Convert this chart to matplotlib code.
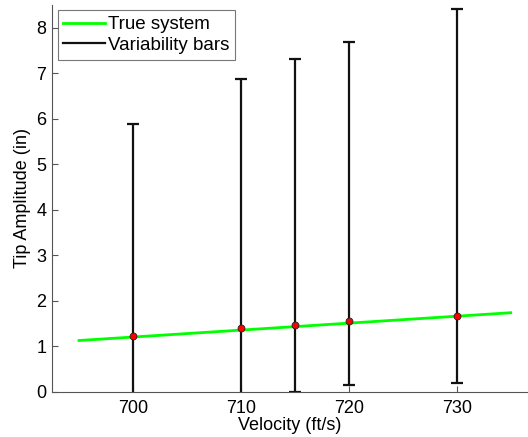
import matplotlib
matplotlib.use("Agg")
import matplotlib.pyplot as plt
from matplotlib.lines import Line2D
import numpy as np

plt.rcParams['font.family'] = ['Liberation Sans', 'DejaVu Sans']

# true system line
line_v = [695, 735]
line_amp = [1.13, 1.74]

# variability bars
vel = [700, 710, 715, 720, 730]
amp = [1.23, 1.40, 1.47, 1.55, 1.67]
upper = [5.89, 6.87, 7.30, 7.68, 8.40]
lower = [-0.3, -0.3, 0.0, 0.16, 0.20]

fig = plt.figure(figsize=(5.28, 4.37), dpi=100)
ax = fig.add_axes([0.0985, 0.103, 0.9015, 0.886])

amp_a = np.array(amp)
yerr = [amp_a - np.array(lower), np.array(upper) - amp_a]
ax.errorbar(vel, amp, yerr=yerr, fmt='none', ecolor='#111111', elinewidth=1.6,
            capsize=4.5, capthick=1.6, zorder=2)
ax.plot(line_v, line_amp, color=(0, 1, 0), lw=2, zorder=3)
ax.plot(vel, amp, 'o', color='red', mec='#222222', mew=0.6, ms=5, zorder=4)

ax.set_xlim(692.5, 736.6)
ax.set_ylim(0, 8.5)
ax.set_xticks([700, 710, 720, 730])
ax.set_yticks(range(0, 9))
ax.spines['top'].set_visible(False)
ax.spines['right'].set_visible(False)
for s in ['left', 'bottom']:
    ax.spines[s].set_color('#555555')
ax.tick_params(direction='in', labelsize=13, length=4, color='#555555', pad=4)
ax.tick_params(axis='x', pad=5.5)
ax.set_xlabel('Velocity (ft/s)', fontsize=13, labelpad=0.5)
ax.set_ylabel('Tip Amplitude (in)', fontsize=13, labelpad=4)

handles = [Line2D([], [], color=(0, 1, 0), lw=2),
           Line2D([], [], color='#111111', lw=1.6)]
leg = ax.legend(handles, ['True system', 'Variability bars'], loc='upper left',
                fontsize=13.5, frameon=True, fancybox=False, handlelength=2.2,
                borderpad=0.3, labelspacing=0.2, handletextpad=0.2,
                borderaxespad=0.3)
leg.get_frame().set_edgecolor('#555555')
leg.get_frame().set_linewidth(0.8)

fig.savefig('out.png', dpi=100)
